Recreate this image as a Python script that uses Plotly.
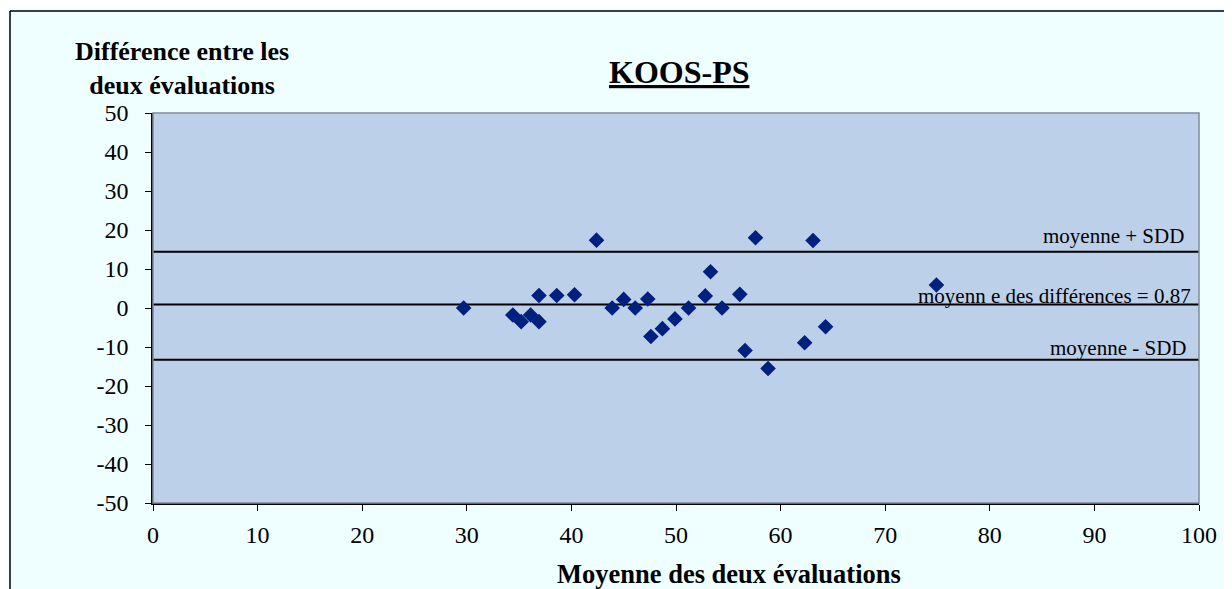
import plotly.graph_objects as go

# moyenne des deux évaluations / différence entre les deux évaluations
moyennes = [29.7, 34.4, 35.2, 36.1, 36.9, 36.9, 38.6, 40.3, 42.4, 43.9,
            45.0, 46.1, 47.3, 47.6, 48.7, 49.9, 51.2, 52.8, 53.3, 54.4,
            56.1, 56.6, 57.6, 58.8, 62.3, 63.1, 64.3, 74.9]
differences = [0.0, -1.8, -3.5, -1.8, -3.5, 3.2, 3.2, 3.4, 17.4, 0.0,
               2.2, 0.0, 2.3, -7.3, -5.3, -2.8, 0.0, 3.1, 9.3, 0.0,
               3.5, -10.9, 18.0, -15.5, -8.9, 17.3, -4.8, 5.9]

moyenne_diff = 0.87
limite_haute = 14.4
limite_basse = -13.3
ligne_x = [0, 100]

x_ticks = [0, 10, 20, 30, 40, 50, 60, 70, 80, 90, 100]
y_ticks = [50, 40, 30, 20, 10, 0, -10, -20, -30, -40, -50]
y_labels = ['50', '40', '30', '20', '10', '0', '-10', '-20', '-30', '-40', '-50']

serif = 'Liberation Serif, Times New Roman, serif'

fig = go.Figure()

for val in [limite_haute, moyenne_diff, limite_basse]:
    fig.add_trace(go.Scatter(
        x=ligne_x, y=[val, val], mode='lines',
        line=dict(color='black', width=2), showlegend=False, hoverinfo='skip'
    ))

fig.add_trace(go.Scatter(
    x=moyennes, y=differences, mode='markers',
    marker=dict(symbol='diamond', size=12, color='#00207F'),
    showlegend=False
))

labels = [
    (limite_haute, 'moyenne + SDD', -13, 2),
    (moyenne_diff, 'moyenn e des différences = 0.87', -6, -5),
    (limite_basse, 'moyenne - SDD', -11, -2),
]
for val, txt, dx, dy in labels:
    fig.add_annotation(x=100, y=val, xref='x', yref='y', text=txt, showarrow=False,
                       xanchor='right', yanchor='bottom', xshift=dx, yshift=dy,
                       font=dict(family=serif, size=21, color='black'))

fig.add_annotation(x=0.503, y=1.105, xref='paper', yref='paper', text='<b><u>KOOS-PS</u></b>',
                   xanchor='center', yanchor='middle',
                   showarrow=False, font=dict(family=serif, size=32, color='black'))
fig.add_annotation(x=0.0282, y=1.115, xref='paper', yref='paper',
                   text='<b>Différence entre les<br>deux évaluations</b>',
                   xanchor='center', yanchor='middle',
                   showarrow=False, align='center', font=dict(family=serif, size=26, color='black'))
fig.add_annotation(x=0.551, y=-0.183, xref='paper', yref='paper',
                   text='<b>Moyenne des deux évaluations</b>',
                   xanchor='center', yanchor='middle',
                   showarrow=False, font=dict(family=serif, size=26.5, color='black'))

# plot frame and outer chart border
fig.add_shape(type='rect', xref='paper', yref='paper', x0=0, y0=0, x1=1, y1=1,
              line=dict(color='#7F8C9A', width=1.5), layer='above')
fig.add_shape(type='line', xref='paper', yref='paper', x0=-0.1367, y0=1.2615, x1=1.1, y1=1.2615,
              line=dict(color='black', width=1.5))
fig.add_shape(type='line', xref='paper', yref='paper', x0=-0.1367, y0=1.2615, x1=-0.1367, y1=-0.3,
              line=dict(color='black', width=1.5))

fig.update_xaxes(range=[0, 100], tickvals=x_ticks, ticks='outside', ticklen=6,
                 tickcolor='black', showline=True, linecolor='black', linewidth=1.5,
                 showgrid=False, zeroline=False, ticklabelstandoff=3,
                 tickfont=dict(family=serif, size=24, color='black'))
fig.update_yaxes(range=[-50, 50], tickvals=y_ticks, ticktext=y_labels, ticks='outside',
                 ticklen=6, tickcolor='black', showline=True, linecolor='black', linewidth=1.5,
                 showgrid=False, zeroline=False, ticklabelstandoff=12,
                 tickfont=dict(family=serif, size=24, color='black'))

fig.update_layout(
    width=1224, height=581,
    margin=dict(l=145, r=33, t=105, b=86),
    paper_bgcolor='#EFFFFF',
    plot_bgcolor='#BCD0EA',
)

fig.write_html('out.html')
